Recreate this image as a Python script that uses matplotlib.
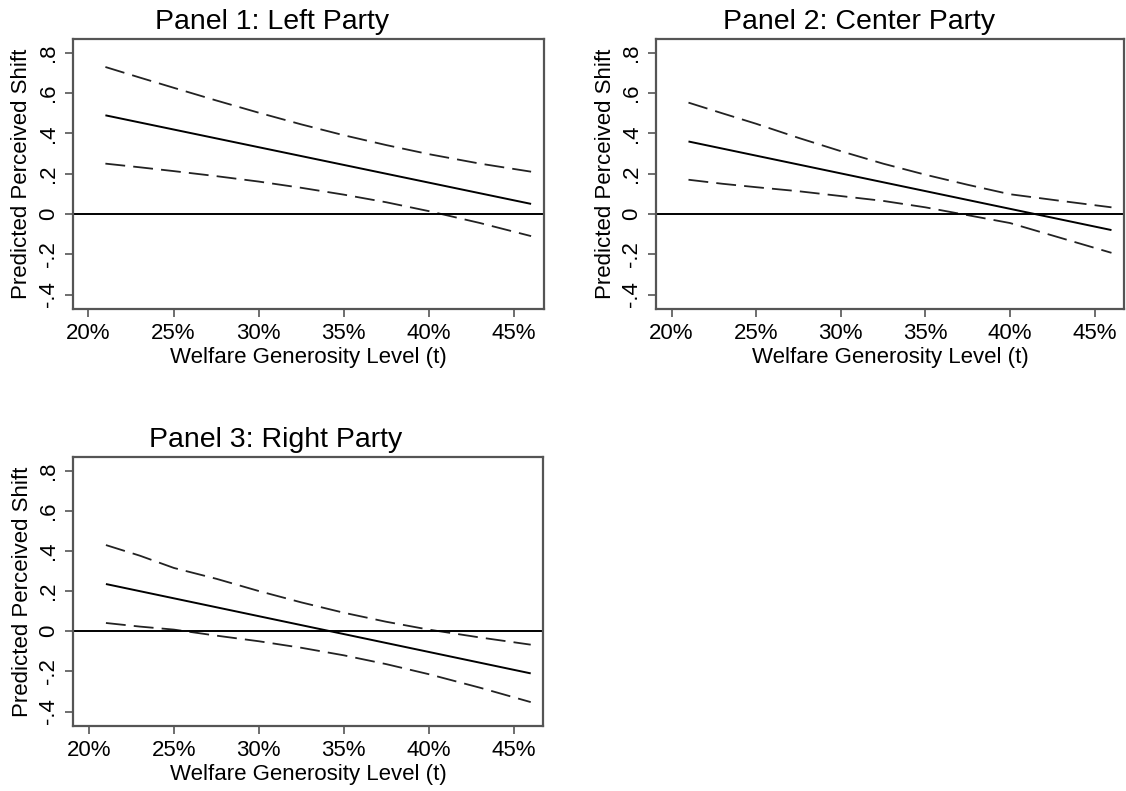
import matplotlib
matplotlib.use("Agg")
import matplotlib.pyplot as plt

plt.rcParams['font.family'] = ['Liberation Sans', 'DejaVu Sans']

titles = ["Panel 1: Left Party", "Panel 2: Center Party", "Panel 3: Right Party"]

# mean predictions (straight lines)
x_mean = [21, 46]
mean_p1 = [0.49, 0.05]
mean_p2 = [0.36, -0.08]
mean_p3 = [0.235, -0.21]

# confidence bounds
x_ci = [21, 23, 25, 27.5, 30, 32.5, 35, 37.5, 40, 43, 46]
upper_p1 = [0.73, 0.678, 0.627, 0.564, 0.503, 0.445, 0.391, 0.342, 0.297, 0.250, 0.21]
lower_p1 = [0.25, 0.232, 0.213, 0.188, 0.161, 0.130, 0.096, 0.058, 0.014, -0.045, -0.11]

upper_p2 = [0.553, 0.50, 0.448, 0.378, 0.312, 0.25, 0.195, 0.145, 0.098, 0.065, 0.033]
lower_p2 = [0.17, 0.15, 0.133, 0.113, 0.089, 0.065, 0.033, -0.006, -0.045, -0.119, -0.193]

upper_p3 = [0.429, 0.376, 0.315, 0.261, 0.200, 0.1435, 0.092, 0.047, 0.008, -0.031, -0.067]
lower_p3 = [0.041, 0.023, 0.008, -0.022, -0.050, -0.0825, -0.120, -0.164, -0.214, -0.281, -0.353]

xticks = [20, 25, 30, 35, 40, 45]
xticklabels = ["20%", "25%", "30%", "35%", "40%", "45%"]
yticks = [-0.4, -0.2, 0, 0.2, 0.4, 0.6, 0.8]
yticklabels = ["-.4", "-.2", "0", ".2", ".4", ".6", ".8"]

panels = [(mean_p1, upper_p1, lower_p1), (mean_p2, upper_p2, lower_p2), (mean_p3, upper_p3, lower_p3)]
rects = [
    [72.7 / 1126, 1 - 309 / 791, 471 / 1126, 270 / 791],
    [656 / 1126, 1 - 309 / 791, 468 / 1126, 270 / 791],
    [73.3 / 1126, 1 - 726 / 791, 470 / 1126, 269.3 / 791],
]
title_x = [0.423, 0.434, 0.43]

fig = plt.figure(figsize=(11.26, 7.91), dpi=100)
frame_col = "#555555"

for title, (m, u, l), r, tx in zip(titles, panels, rects, title_x):
    ax = fig.add_axes(r)
    ax.plot(x_mean, m, color="black", lw=1.4, solid_capstyle="butt")
    for ci in (u, l):
        ln, = ax.plot(x_ci, ci, color="#222222", lw=1.3)
        ln.set_dashes((11, 4.5))
    ax.axhline(0, color="black", lw=1.4)
    ax.set_xlim(19.08, 46.74)
    ax.set_ylim(-0.472, 0.869)
    ax.set_xticks(xticks)
    ax.set_xticklabels(xticklabels, fontsize=16)
    ax.set_yticks(yticks)
    ax.set_yticklabels(yticklabels, fontsize=16, rotation=90, va="center")
    ax.tick_params(direction="out", length=6, width=1.2, color=frame_col, pad=4)
    for s in ax.spines.values():
        s.set_color(frame_col)
        s.set_linewidth(1.6)
    ax.set_xlabel("Welfare Generosity Level (t)", fontsize=16, labelpad=2)
    ax.set_ylabel("Predicted Perceived Shift", fontsize=16, labelpad=4)
    ax.set_title(title, fontsize=20.5, pad=7, x=tx)

fig.savefig("out.png", dpi=100)
